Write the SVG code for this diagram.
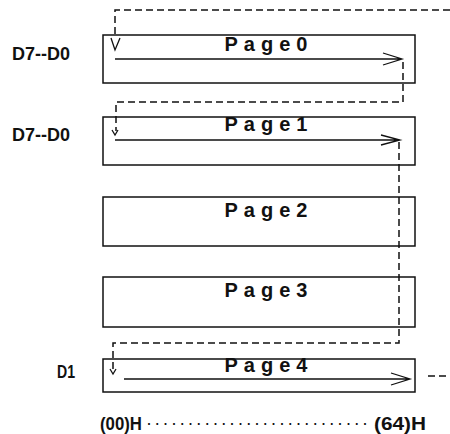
<svg xmlns="http://www.w3.org/2000/svg" width="450" height="434" viewBox="0 0 450 434">
<style>
.box{fill:#fff;stroke:#111;stroke-width:1.5}
.pg{font-family:"Liberation Sans",Arial,sans-serif;font-weight:bold;font-size:20px;fill:#111;letter-spacing:6px;text-anchor:middle}
.lbl{font-family:"Liberation Sans",Arial,sans-serif;font-weight:bold;font-size:18px;fill:#111}
.dots{font-family:"Liberation Sans",Arial,sans-serif;font-size:18px;fill:#111}
.dash{fill:none;stroke:#111;stroke-width:1.5;stroke-dasharray:7 4}
.solid{fill:none;stroke:#111;stroke-width:1.3}
</style>
<rect width="450" height="434" fill="#fff"/>
<g id="labels">
<text class="lbl" x="12" y="60" textLength="58" lengthAdjust="spacingAndGlyphs">D7--D0</text>
<text class="lbl" x="12" y="141" textLength="58" lengthAdjust="spacingAndGlyphs">D7--D0</text>
<text class="lbl" x="57" y="378" textLength="18" lengthAdjust="spacingAndGlyphs">D1</text>
<text class="lbl" x="100" y="430" textLength="42" lengthAdjust="spacingAndGlyphs">(00)H</text>
<text class="dots" x="146" y="429" textLength="222" lengthAdjust="spacing">···························</text>
<text class="lbl" x="374" y="430" textLength="52" lengthAdjust="spacingAndGlyphs">(64)H</text>
</g>
<g id="page0"><rect class="box" x="103" y="35" width="312" height="48"/><text class="pg" x="269" y="51">Page0</text></g>
<g id="page1"><rect class="box" x="103" y="117" width="312" height="48"/><text class="pg" x="269" y="131">Page1</text></g>
<g id="page2"><rect class="box" x="103" y="197" width="312" height="49"/><text class="pg" x="269" y="217">Page2</text></g>
<g id="page3"><rect class="box" x="103" y="277" width="312" height="50"/><text class="pg" x="269" y="297">Page3</text></g>
<g id="page4"><rect class="box" x="103" y="359" width="312" height="33"/><text class="pg" x="269" y="372">Page4</text></g>
<g id="connectors">
<path class="dash" d="M450,10 H115 V36"/>
<path class="solid" d="M111,38 L115,50 L120,38"/>
<path class="solid" d="M115,59 H402 M383,53 L402,59 L383,65"/>
<path class="dash" d="M403,62 V102 H116 V131"/>
<path class="solid" d="M112,130 L115,135 L118,130"/>
<path class="solid" d="M115,140 H400 M381,135 L400,140 L381,145"/>
<path class="dash" d="M399,142 V343 H113 V370"/>
<path class="solid" d="M110,369 L113,374 L116,369"/>
<path class="solid" d="M124,379 H410 M391,373 L410,379 L391,385"/>
<path class="dash" d="M428,376 H450"/>
</g>
</svg>
